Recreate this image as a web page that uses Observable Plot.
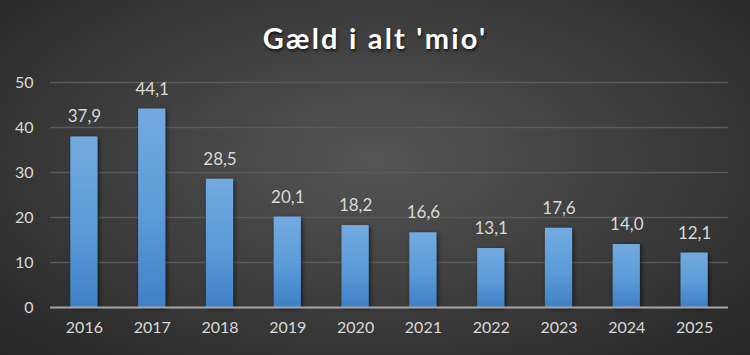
<!DOCTYPE html>
<html>
<head>
<meta charset="utf-8">
<script src="https://cdn.jsdelivr.net/npm/d3@7"></script>
<script src="https://cdn.jsdelivr.net/npm/@observablehq/plot@0.6"></script>
<style>
  html, body { margin: 0; padding: 0; }
  #wrap {
    width: 750px; height: 355px; overflow: hidden; position: relative;
    background: radial-gradient(ellipse at 50% 45%, #555555 0%, #404040 45%, #262626 100%);
    font-family: Lato, "Open Sans", sans-serif;
  }
  #title {
    height: 60px; line-height: 76px; text-align: center; color: #ffffff;
    font-size: 29px; font-weight: bold; letter-spacing: 2.2px;
    text-shadow: 1px 2px 3px rgba(0,0,0,0.7);
  }
</style>
</head>
<body>
<div id="wrap">
  <div id="title">Gæld i alt 'mio'</div>
  <div id="chart"></div>
</div>
<script>
const years = ["2016","2017","2018","2019","2020","2021","2022","2023","2024","2025"];
const values = [37.9, 44.1, 28.5, 20.1, 18.2, 16.6, 13.1, 17.6, 14.0, 12.1];
const yTicks = [0, 10, 20, 30, 40, 50];

const data = years.map((y, i) => ({year: y, value: values[i]}));
const fmt = d => d.toFixed(1).replace(".", ",");

const plot = Plot.plot({
  width: 750,
  height: 295,
  marginTop: 22,
  marginBottom: 48,
  marginLeft: 50,
  marginRight: 22,
  style: {background: "transparent", fontFamily: "Lato, 'Open Sans', sans-serif", fontSize: "16px", color: "#d9d9d9"},
  x: {domain: years, paddingInner: 0.6, paddingOuter: 0.3, round: false, label: null, tickSize: 0, tickPadding: 14},
  y: {domain: [0, 50], ticks: yTicks, label: null, tickSize: 0, tickPadding: 17},
  marks: [
    Plot.gridY(yTicks.filter(t => t > 0), {stroke: "#5a5a5a", strokeOpacity: 1, strokeWidth: 1.5}),
    Plot.barY(data, {x: "year", y: "value", fill: "url(#barGrad)"}),
    Plot.ruleY([0], {stroke: "#a6a6a6", strokeWidth: 2}),
    Plot.text(data, {x: "year", y: "value", text: d => fmt(d.value), dy: -20, fill: "#d9d9d9", fontSize: 17})
  ]
});

const ns = "http://www.w3.org/2000/svg";
const defs = document.createElementNS(ns, "defs");
defs.innerHTML = `
  <linearGradient id="barGrad" x1="0" y1="0" x2="0" y2="1">
    <stop offset="0%" stop-color="#72aae0"/>
    <stop offset="55%" stop-color="#5b9bd8"/>
    <stop offset="100%" stop-color="#3f80c6"/>
  </linearGradient>
  <filter id="shadow" x="-30%" y="-10%" width="160%" height="130%">
    <feDropShadow dx="1.5" dy="1.5" stdDeviation="2" flood-color="#000" flood-opacity="0.6"/>
  </filter>`;
plot.insertBefore(defs, plot.firstChild);
plot.querySelectorAll("rect").forEach(r => r.setAttribute("filter", "url(#shadow)"));
plot.querySelectorAll("g[aria-label='y-axis tick label'] text, g[aria-label='x-axis tick label'] text").forEach(t => t.setAttribute("fill", "#d9d9d9"));
document.getElementById("chart").appendChild(plot);
</script>
</body>
</html>
